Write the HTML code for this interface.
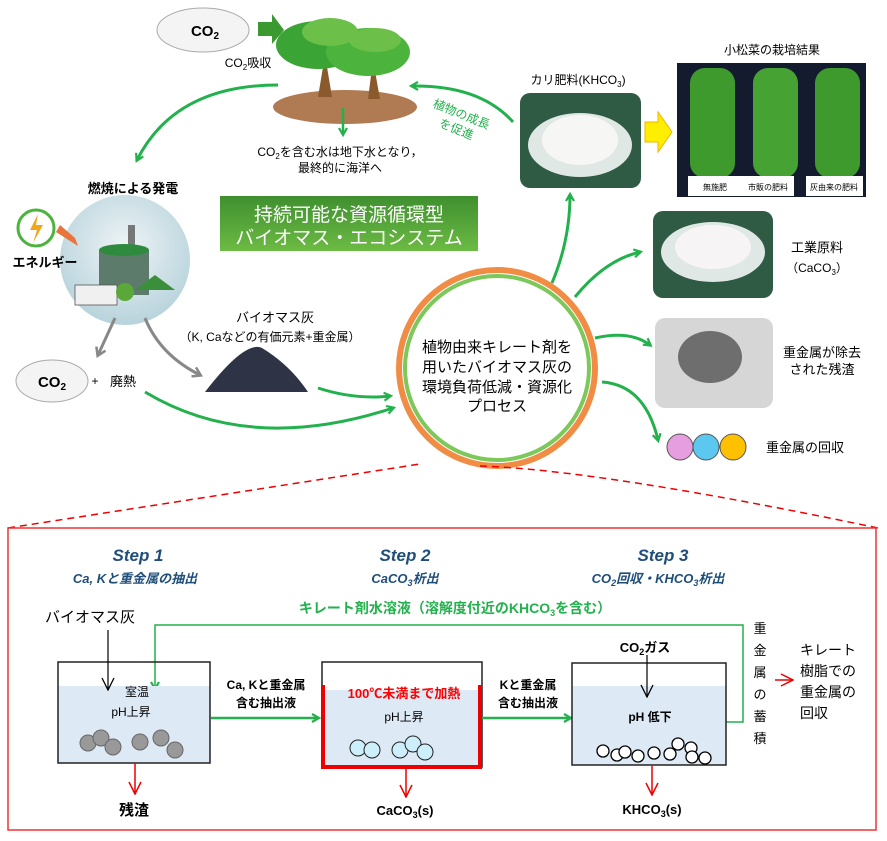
<!DOCTYPE html>
<html><head><meta charset="utf-8"><style>
body{margin:0;background:#fff;}
svg{display:block;font-family:"Liberation Sans","Noto Sans CJK JP",sans-serif;}
</style></head><body>
<svg width="887" height="841" viewBox="0 0 887 841" xmlns="http://www.w3.org/2000/svg">
<defs>
<marker id="g" markerWidth="10" markerHeight="10" refX="7" refY="5" orient="auto" markerUnits="userSpaceOnUse"><path d="M1,1 L8,5 L1,9" fill="none" stroke="#22b14c" stroke-width="2.2"/></marker>
<marker id="gr" markerWidth="12" markerHeight="12" refX="8" refY="6" orient="auto" markerUnits="userSpaceOnUse"><path d="M1,1 L9,6 L1,11" fill="none" stroke="#888" stroke-width="2.5"/></marker>
<marker id="r" markerWidth="14" markerHeight="14" refX="13" refY="7" orient="auto" markerUnits="userSpaceOnUse"><path d="M1,1 L13,7 L1,13" fill="none" stroke="#e00" stroke-width="1.5"/></marker>
<marker id="k" markerWidth="14" markerHeight="14" refX="13" refY="7" orient="auto" markerUnits="userSpaceOnUse"><path d="M1,1 L13,7 L1,13" fill="none" stroke="#000" stroke-width="1.3"/></marker>
<linearGradient id="ban" x1="0" y1="0" x2="0" y2="1"><stop offset="0" stop-color="#3f8f2f"/><stop offset="1" stop-color="#6cbb44"/></linearGradient>
<radialGradient id="sky" cx="0.5" cy="0.4" r="0.6"><stop offset="0" stop-color="#eef4f6"/><stop offset="1" stop-color="#b8d3dc"/></radialGradient>
</defs>

<ellipse cx="203" cy="30" rx="46" ry="22" fill="#f4f4f4" stroke="#aaa"/>
<text x="205" y="36" font-size="15" font-weight="bold" text-anchor="middle">CO<tspan font-size="10" dy="3">2</tspan></text>
<path d="M258,22 L272,22 L272,14 L284,30 L272,44 L272,36 L258,36z" fill="#3b9a2f"/>
<text x="248" y="67" font-size="12" text-anchor="middle">CO<tspan font-size="8" dy="3">2</tspan><tspan dy="-3">吸収</tspan></text>
<ellipse cx="345" cy="107" rx="72" ry="17" fill="#b07a52"/>
<path d="M318,97 L325,55 L332,97z M368,99 L373,60 L380,99z" fill="#8a5a2c"/>
<ellipse cx="318" cy="45" rx="42" ry="24" fill="#3aa534"/>
<ellipse cx="368" cy="52" rx="42" ry="24" fill="#4cb43c"/>
<ellipse cx="330" cy="32" rx="28" ry="14" fill="#6cc04a"/>
<ellipse cx="375" cy="40" rx="26" ry="12" fill="#6cc04a"/>
<line x1="343" y1="108" x2="343" y2="134" stroke="#22b14c" stroke-width="2.5" marker-end="url(#g)"/>
<text x="340" y="156" font-size="12" text-anchor="middle">CO<tspan font-size="8" dy="3">2</tspan><tspan dy="-3">を含む水は地下水となり，</tspan></text>
<text x="340" y="172" font-size="12" text-anchor="middle">最終的に海洋へ</text>
<path d="M278,85 Q175,85 137,160" fill="none" stroke="#22b14c" stroke-width="3" marker-end="url(#g)"/>
<path d="M513,122 Q480,85 412,86" fill="none" stroke="#22b14c" stroke-width="3" marker-end="url(#g)"/>
<text x="460" y="118" font-size="12" fill="#22b14c" transform="rotate(22 460 118)" text-anchor="middle">植物の成長</text>
<text x="455" y="133" font-size="12" fill="#22b14c" transform="rotate(22 455 133)" text-anchor="middle">を促進</text>

<text x="133" y="193" font-size="13" font-weight="bold" text-anchor="middle">燃焼による発電</text>
<circle cx="125" cy="260" r="65" fill="url(#sky)"/>
<rect x="128" y="225" width="7" height="40" fill="#777"/>
<rect x="99" y="250" width="50" height="45" fill="#5c7b6a"/>
<ellipse cx="124" cy="250" rx="25" ry="6" fill="#2e8b3e"/>
<rect x="75" y="285" width="42" height="20" fill="#f0f0f0" stroke="#555" stroke-width="0.8"/>
<path d="M135,290 L155,275 L175,290z" fill="#3a8f3a"/>
<circle cx="125" cy="292" r="9" fill="#5aa83a"/>
<circle cx="36" cy="228" r="18" fill="none" stroke="#4cb43c" stroke-width="3"/>
<path d="M38,214 L30,230 L37,230 L33,243 L43,225 L36,225z" fill="#f2a71b"/>
<path d="M75,238 L60,225 L56,232 L78,246z" fill="#e8743b"/>
<text x="45" y="267" font-size="13" font-weight="bold" text-anchor="middle">エネルギー</text>

<rect x="220" y="196" width="258" height="55" fill="url(#ban)"/>
<text x="349" y="221" font-size="19" fill="#fff" text-anchor="middle">持続可能な資源循環型</text>
<text x="349" y="244" font-size="19" fill="#fff" text-anchor="middle">バイオマス・エコシステム</text>

<line x1="115" y1="318" x2="98" y2="355" stroke="#888" stroke-width="3" marker-end="url(#gr)"/>
<path d="M145,318 Q160,355 200,375" fill="none" stroke="#888" stroke-width="3" marker-end="url(#gr)"/>
<ellipse cx="52" cy="381" rx="36" ry="21" fill="#f4f4f4" stroke="#aaa"/>
<text x="52" y="387" font-size="15" font-weight="bold" text-anchor="middle">CO<tspan font-size="10" dy="3">2</tspan></text>
<text x="95" y="385" font-size="12" text-anchor="middle">+</text>
<text x="123" y="386" font-size="13" text-anchor="middle">廃熱</text>
<text x="275" y="322" font-size="13" text-anchor="middle">バイオマス灰</text>
<text x="270" y="341" font-size="12" text-anchor="middle">（K, Caなどの有価元素+重金属）</text>
<path d="M205,392 Q245,340 262,348 Q290,365 308,392z" fill="#2e3346"/>
<path d="M145,392 Q250,455 393,408" fill="none" stroke="#22b14c" stroke-width="3" marker-end="url(#g)"/>
<path d="M318,388 Q355,400 390,396" fill="none" stroke="#22b14c" stroke-width="3" marker-end="url(#g)"/>

<circle cx="497" cy="368" r="98" fill="none" stroke="#f08030" stroke-width="6" opacity="0.9"/>
<circle cx="497" cy="368" r="92" fill="#fff" stroke="#7cc85a" stroke-width="4"/>
<text x="497" y="352" font-size="15" text-anchor="middle">植物由来キレート剤を</text>
<text x="497" y="372" font-size="15" text-anchor="middle">用いたバイオマス灰の</text>
<text x="497" y="392" font-size="15" text-anchor="middle">環境負荷低減・資源化</text>
<text x="497" y="411" font-size="15" text-anchor="middle">プロセス</text>

<path d="M552,283 Q570,240 570,195" fill="none" stroke="#22b14c" stroke-width="3" marker-end="url(#g)"/>
<path d="M575,297 Q605,260 640,252" fill="none" stroke="#22b14c" stroke-width="3" marker-end="url(#g)"/>
<path d="M595,338 Q630,330 650,345" fill="none" stroke="#22b14c" stroke-width="3" marker-end="url(#g)"/>
<path d="M602,382 Q645,385 658,440" fill="none" stroke="#22b14c" stroke-width="3" marker-end="url(#g)"/>

<text x="578" y="84" font-size="12" text-anchor="middle">カリ肥料(KHCO<tspan font-size="8" dy="3">3</tspan><tspan dy="-3">)</tspan></text>
<rect x="520" y="93" width="121" height="95" rx="10" fill="#2f5a44"/>
<ellipse cx="580" cy="145" rx="52" ry="32" fill="#dfe8e4"/>
<ellipse cx="580" cy="140" rx="38" ry="25" fill="#f6f6f4"/>
<path d="M645,122 L658,122 L658,112 L672,132 L658,152 L658,142 L645,142z" fill="#ffee00" stroke="#f5b400"/>
<text x="772" y="54" font-size="12" text-anchor="middle">小松菜の栽培結果</text>
<rect x="677" y="63" width="189" height="134" fill="#141b2e"/>
<rect x="690" y="68" width="45" height="110" rx="15" fill="#3f9a2e"/>
<rect x="753" y="68" width="45" height="110" rx="15" fill="#46a232"/>
<rect x="815" y="68" width="45" height="110" rx="15" fill="#3f9a2e"/>
<rect x="688" y="176" width="54" height="20" fill="#fff"/>
<rect x="742" y="176" width="52" height="20" fill="#fff"/>
<rect x="806" y="176" width="57" height="20" fill="#fff"/>
<text x="715" y="190" font-size="8" text-anchor="middle">無施肥</text>
<text x="768" y="190" font-size="8" text-anchor="middle">市販の肥料</text>
<text x="834" y="190" font-size="8" text-anchor="middle">灰由来の肥料</text>
<rect x="653" y="211" width="120" height="87" rx="10" fill="#2f5a44"/>
<ellipse cx="713" cy="252" rx="52" ry="30" fill="#dfe8e4"/>
<ellipse cx="713" cy="247" rx="38" ry="22" fill="#f6f4f4"/>
<text x="817" y="252" font-size="13" text-anchor="middle">工業原料</text>
<text x="817" y="272" font-size="12" text-anchor="middle">（CaCO<tspan font-size="8" dy="3">3</tspan><tspan dy="-3">）</tspan></text>
<rect x="655" y="318" width="118" height="90" rx="10" fill="#d6d6d6"/>
<ellipse cx="710" cy="357" rx="32" ry="26" fill="#6e6e6e"/>
<text x="822" y="357" font-size="13" text-anchor="middle">重金属が除去</text>
<text x="822" y="374" font-size="13" text-anchor="middle">された残渣</text>
<circle cx="680" cy="447" r="13" fill="#e79ee0" stroke="#555"/>
<circle cx="706" cy="447" r="13" fill="#5cc8f0" stroke="#555"/>
<circle cx="733" cy="447" r="13" fill="#ffc000" stroke="#555"/>
<text x="805" y="452" font-size="13" text-anchor="middle">重金属の回収</text>

<path d="M8,528 L420,464" stroke="#e00" stroke-width="1.5" stroke-dasharray="7,5" fill="none"/>
<path d="M480,466 Q600,470 878,528" stroke="#e00" stroke-width="1.5" stroke-dasharray="7,5" fill="none"/>

<rect x="8" y="528" width="868" height="302" fill="#fff" stroke="#e33" stroke-width="1.5"/>
<g font-style="italic" font-weight="bold" fill="#1f4e79" text-anchor="middle">
<text x="138" y="561" font-size="17">Step 1</text>
<text x="135" y="583" font-size="13">Ca, Kと重金属の抽出</text>
<text x="405" y="561" font-size="17">Step 2</text>
<text x="405" y="583" font-size="13">CaCO<tspan font-size="9" dy="3">3</tspan><tspan dy="-3">析出</tspan></text>
<text x="663" y="561" font-size="17">Step 3</text>
<text x="658" y="583" font-size="13">CO<tspan font-size="9" dy="3">2</tspan><tspan dy="-3">回収・KHCO</tspan><tspan font-size="9" dy="3">3</tspan><tspan dy="-3">析出</tspan></text>
</g>
<text x="455" y="613" font-size="14" font-weight="bold" fill="#22b14c" text-anchor="middle">キレート剤水溶液（溶解度付近のKHCO<tspan font-size="9" dy="3">3</tspan><tspan dy="-3">を含む）</tspan></text>
<text x="90" y="622" font-size="15" text-anchor="middle">バイオマス灰</text>
<path d="M726,722 L743,722 L743,625 L155,625 L155,688" fill="none" stroke="#22b14c" stroke-width="1.5" marker-end="url(#g)"/>

<!-- box1 -->
<rect x="58" y="686" width="152" height="77" fill="#dde9f5"/>
<rect x="58" y="662" width="152" height="101" fill="none" stroke="#222" stroke-width="1.5"/>
<line x1="108" y1="630" x2="108" y2="690" stroke="#000" stroke-width="1.2" marker-end="url(#k)"/>
<text x="137" y="696" font-size="12" text-anchor="middle">室温</text>
<text x="131" y="716" font-size="12" text-anchor="middle">pH上昇</text>
<g fill="#999" stroke="#666"><circle cx="88" cy="743" r="8"/><circle cx="101" cy="738" r="8"/><circle cx="113" cy="747" r="8"/><circle cx="140" cy="742" r="8"/><circle cx="161" cy="738" r="8"/><circle cx="175" cy="750" r="8"/></g>
<line x1="135" y1="763" x2="135" y2="794" stroke="#e00" stroke-width="1.5" marker-end="url(#r)"/>
<text x="134" y="815" font-size="15" font-weight="bold" text-anchor="middle">残渣</text>

<line x1="211" y1="718" x2="318" y2="718" stroke="#22b14c" stroke-width="2.5" marker-end="url(#g)"/>
<text x="266" y="689" font-size="12" font-weight="bold" text-anchor="middle">Ca, Kと重金属</text>
<text x="266" y="707" font-size="12" font-weight="bold" text-anchor="middle">含む抽出液</text>

<!-- box2 -->
<rect x="322" y="690" width="160" height="77" fill="#dde9f5"/>
<rect x="322" y="662" width="160" height="105" fill="none" stroke="#222" stroke-width="1.5"/>
<path d="M323,685 L323,767 L480,767 L480,685" fill="none" stroke="#e00" stroke-width="4"/>
<text x="404" y="698" font-size="13" font-weight="bold" fill="#f00" text-anchor="middle">100℃未満まで加熱</text>
<text x="404" y="721" font-size="12" text-anchor="middle">pH上昇</text>
<g fill="#cdeffc" stroke="#222"><circle cx="358" cy="748" r="8"/><circle cx="372" cy="750" r="8"/><circle cx="400" cy="750" r="8"/><circle cx="413" cy="744" r="8"/><circle cx="425" cy="752" r="8"/></g>
<line x1="406" y1="767" x2="406" y2="797" stroke="#e00" stroke-width="1.5" marker-end="url(#r)"/>
<text x="405" y="815" font-size="13" font-weight="bold" text-anchor="middle">CaCO<tspan font-size="9" dy="3">3</tspan><tspan dy="-3">(s)</tspan></text>

<line x1="482" y1="718" x2="570" y2="718" stroke="#22b14c" stroke-width="2.5" marker-end="url(#g)"/>
<text x="528" y="689" font-size="12" font-weight="bold" text-anchor="middle">Kと重金属</text>
<text x="528" y="707" font-size="12" font-weight="bold" text-anchor="middle">含む抽出液</text>

<!-- box3 -->
<rect x="572" y="686" width="154" height="79" fill="#dde9f5"/>
<rect x="572" y="663" width="154" height="102" fill="none" stroke="#222" stroke-width="1.5"/>
<text x="645" y="652" font-size="13" font-weight="bold" text-anchor="middle">CO<tspan font-size="9" dy="3">2</tspan><tspan dy="-3">ガス</tspan></text>
<line x1="647" y1="655" x2="647" y2="697" stroke="#000" stroke-width="1.2" marker-end="url(#k)"/>
<text x="650" y="721" font-size="12" font-weight="bold" text-anchor="middle">pH 低下</text>
<g fill="#fff" stroke="#000" stroke-width="1.3"><circle cx="603" cy="751" r="6"/><circle cx="617" cy="755" r="6"/><circle cx="625" cy="752" r="6"/><circle cx="638" cy="756" r="6"/><circle cx="654" cy="753" r="6"/><circle cx="670" cy="754" r="6"/><circle cx="678" cy="744" r="6"/><circle cx="691" cy="748" r="6"/><circle cx="692" cy="757" r="6"/><circle cx="705" cy="758" r="6"/></g>
<line x1="652" y1="765" x2="652" y2="795" stroke="#e00" stroke-width="1.5" marker-end="url(#r)"/>
<text x="652" y="814" font-size="13" font-weight="bold" text-anchor="middle">KHCO<tspan font-size="9" dy="3">3</tspan><tspan dy="-3">(s)</tspan></text>

<g font-size="13" text-anchor="middle">
<text x="760" y="633">重</text><text x="760" y="655">金</text><text x="760" y="677">属</text><text x="760" y="699">の</text><text x="760" y="721">蓄</text><text x="760" y="743">積</text>
</g>
<line x1="775" y1="680" x2="793" y2="680" stroke="#e00" stroke-width="1.5" marker-end="url(#r)"/>
<g font-size="14">
<text x="800" y="655">キレート</text><text x="800" y="676">樹脂での</text><text x="800" y="697">重金属の</text><text x="800" y="718">回収</text>
</g>
</svg>
</body></html>
